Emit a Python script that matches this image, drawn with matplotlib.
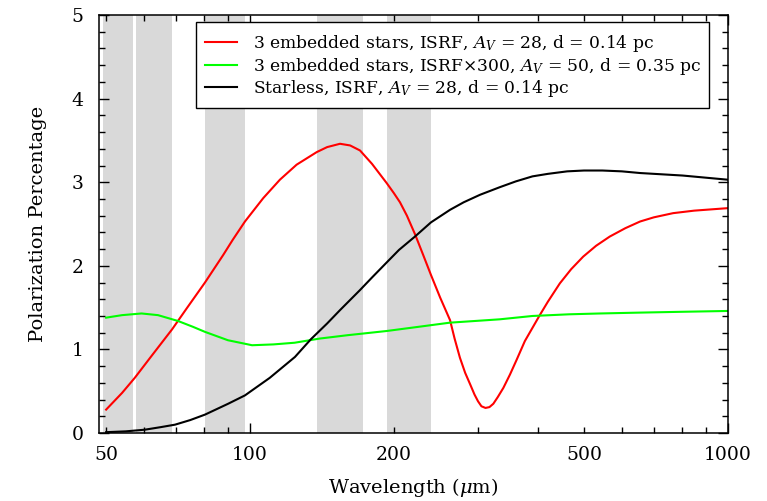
import numpy as np
import matplotlib.pyplot as plt
from matplotlib.patches import Rectangle
from matplotlib.ticker import FixedLocator, FuncFormatter

plt.rcParams['font.family'] = 'DejaVu Serif'
plt.rcParams['mathtext.fontset'] = 'dejavuserif'

# wavelength bands (um), shaded
bands = [(49.2, 57.0), (57.7, 68.6), (80.5, 97.6), (137.9, 172.6), (193.2, 238.8)]

# 3 embedded stars, ISRF, Av=28
wl_red = [50, 54, 57.4, 62, 68.7, 73.7, 80.5, 87.9, 92, 97.6, 106.6, 115.5, 125.2, 137.9,
          145, 154.3, 162, 169.9, 180, 193.2, 200, 206, 213, 221.4, 230, 239.2, 250, 262.2,
          268, 275, 282, 289, 295, 300, 305, 311, 317, 323, 330, 339, 350, 361, 376, 404,
          420, 445, 470, 498, 530, 566, 610, 655, 700, 768, 850, 1000]
p_red = [0.28, 0.48, 0.66, 0.91, 1.24, 1.49, 1.80, 2.13, 2.31, 2.53, 2.81, 3.03, 3.21, 3.36,
         3.42, 3.46, 3.44, 3.38, 3.22, 2.99, 2.87, 2.76, 2.60, 2.38, 2.14, 1.89, 1.62, 1.35,
         1.13, 0.90, 0.72, 0.58, 0.46, 0.38, 0.32, 0.30, 0.31, 0.35, 0.43, 0.54, 0.70, 0.87,
         1.10, 1.41, 1.57, 1.79, 1.96, 2.11, 2.24, 2.35, 2.45, 2.53, 2.58, 2.63, 2.66, 2.69]

# 3 embedded stars, ISRFx300, Av=50
wl_green = [50, 54, 59.3, 64.2, 70.7, 76, 80.5, 89.9, 101, 112, 124, 140, 160, 193,
            225, 262, 333, 390, 465, 540, 650, 800, 1000]
p_green = [1.38, 1.41, 1.43, 1.41, 1.34, 1.27, 1.21, 1.11, 1.05, 1.06, 1.08, 1.13, 1.17,
           1.22, 1.27, 1.32, 1.36, 1.40, 1.42, 1.43, 1.44, 1.45, 1.46]

# Starless, ISRF, Av=28
wl_black = [50, 55, 60.3, 65, 69.7, 75, 80.5, 90, 97.6, 110, 124.2, 134, 145, 154.3, 169.9,
            180, 193.2, 205, 221.4, 239.2, 262.2, 280, 303, 333, 360, 390, 420, 461, 500,
            546, 600, 655, 804, 1000]
p_black = [0.01, 0.02, 0.04, 0.07, 0.10, 0.155, 0.22, 0.35, 0.45, 0.66, 0.91, 1.12, 1.31,
           1.47, 1.71, 1.86, 2.04, 2.19, 2.35, 2.52, 2.67, 2.76, 2.85, 2.94, 3.01, 3.07,
           3.10, 3.13, 3.14, 3.14, 3.13, 3.11, 3.08, 3.03]

labels = ['3 embedded stars, ISRF, $A_V$ = 28, d = 0.14 pc',
          '3 embedded stars, ISRF\u00d7300, $A_V$ = 50, d = 0.35 pc',
          'Starless, ISRF, $A_V$ = 28, d = 0.14 pc']

fig = plt.figure(figsize=(7.67, 5.01), dpi=100)
ax = fig.add_axes([0.129, 0.1357, 0.820, 0.8343])

for lo, hi in bands:
    ax.axvspan(lo, hi, color='#d9d9d9', lw=0, zorder=0)

ax.plot(wl_red, p_red, color='#ff0000', lw=1.5, label=labels[0])
ax.plot(wl_green, p_green, color='#00ff00', lw=1.5, label=labels[1])
ax.plot(wl_black, p_black, color='black', lw=1.5, label=labels[2])

ax.set_xscale('log')
ax.set_xlim(48.3, 1000)
ax.set_ylim(0, 5)

ax.xaxis.set_major_locator(FixedLocator([100, 1000]))
ax.xaxis.set_major_formatter(FuncFormatter(lambda v, p: '%d' % round(v)))
minors = [m * d for d in (10, 100) for m in range(2, 10)]
ax.xaxis.set_minor_locator(FixedLocator(minors))
ax.xaxis.set_minor_formatter(FuncFormatter(
    lambda v, p: '%d' % round(v) if round(v) in (50, 200, 500) else ''))
ax.yaxis.set_major_locator(FixedLocator([0, 1, 2, 3, 4, 5]))
ax.yaxis.set_minor_locator(FixedLocator(np.arange(0, 5.01, 0.2)))

ax.tick_params(which='both', direction='in', top=True, right=True, width=1)
ax.tick_params(which='major', length=7, labelsize=13.5)
ax.tick_params(which='minor', length=4, labelsize=13.5)
ax.tick_params(axis='x', which='both', pad=9)
ax.tick_params(axis='y', which='both', pad=11)
for s in ax.spines.values():
    s.set_linewidth(1.1)

ax.set_xlabel('Wavelength ($\\mu$m)', fontsize=14, labelpad=9)
ax.set_ylabel('Polarization Percentage', fontsize=14, labelpad=18)

ax.add_patch(Rectangle((0.154, 0.778), 0.816, 0.205, transform=ax.transAxes,
                       facecolor='white', edgecolor='black', lw=1, zorder=5))
leg = ax.legend(loc='upper left', bbox_to_anchor=(0.1685, 0.957), frameon=False,
                borderpad=0, borderaxespad=0, handlelength=1.88, handletextpad=0.94,
                labelspacing=0.1, fontsize=12.35)
leg.set_zorder(6)

fig.savefig('out.png', dpi=100)
